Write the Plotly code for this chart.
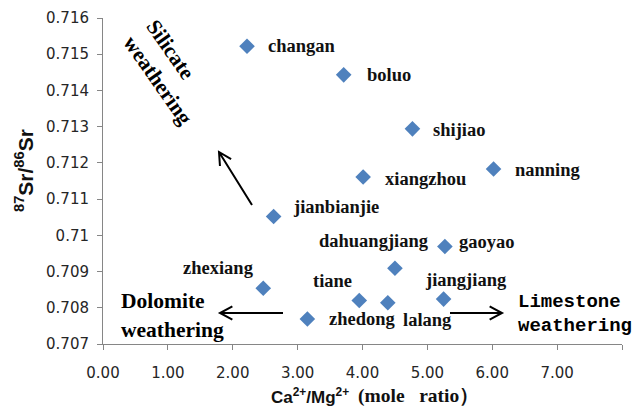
import plotly.graph_objects as go
import math

# ---- data ----
sites = ["changan", "boluo", "shijiao", "nanning", "xiangzhou", "jianbianjie",
         "dahuangjiang", "gaoyao", "zhexiang", "tiane", "jiangjiang", "zhedong", "lalang"]
ca_mg = [2.22, 3.71, 4.77, 6.02, 4.01, 2.63, 4.50, 5.27, 2.47, 3.95, 5.25, 3.15, 4.39]
sr_ratio = [0.71522, 0.71443, 0.71294, 0.71183, 0.71161, 0.71052, 0.70909,
            0.70969, 0.70854, 0.70820, 0.70824, 0.70769, 0.70814]

x_ticks = [0, 1, 2, 3, 4, 5, 6, 7, 8]
x_tick_text = ["0.00", "1.00", "2.00", "3.00", "4.00", "5.00", "6.00", "7.00", "8.00"]
y_ticks = [0.707, 0.708, 0.709, 0.710, 0.711, 0.712, 0.713, 0.714, 0.715, 0.716]
y_tick_text = ["0.707", "0.708", "0.709", "0.71", "0.711", "0.712", "0.713", "0.714", "0.715", "0.716"]

# ---- layout / style ----
W, H = 638, 409
L, R, T, B = 103, 16, 18, 65
PW, PH = W - L - R, H - T - B

def px(x, y):
    return (x - L) / PW, (H - B - y) / PH

label_place = {
    "changan": ("left", 19, 0),
    "boluo": ("left", 21, 0),
    "shijiao": ("left", 19, -1),
    "nanning": ("left", 19, -1),
    "xiangzhou": ("left", 20, -2),
    "jianbianjie": ("left", 17, 10),
    "dahuangjiang": ("center", -21, 27),
    "gaoyao": ("left", 12, 5),
    "zhexiang": ("right", -7, 20),
    "tiane": ("right", -5, 20),
    "jiangjiang": ("center", 22, 19),
    "zhedong": ("left", 20, 0),
    "lalang": ("center", 40, -17),
}

SERIF = "Liberation Serif, Times New Roman, serif"
SANS = "Liberation Sans, Arial, DejaVu Sans, sans-serif"
label_font = dict(family=SERIF, size=18.5, color="#111111")

fig = go.Figure(go.Scatter(
    x=ca_mg, y=sr_ratio, mode="markers",
    marker=dict(symbol="diamond", size=12, color="#4F81BD", line=dict(width=0)),
    hovertext=sites, showlegend=False,
))

annotations = []
for name, xv, yv in zip(sites, ca_mg, sr_ratio):
    anchor, dx, dy = label_place[name]
    annotations.append(dict(
        x=xv, y=yv, xref="x", yref="y", text=f"<b>{name}</b>", showarrow=False,
        xanchor=anchor, yanchor="middle", xshift=dx, yshift=dy, font=label_font,
    ))

def text_at(x, y, text, font, xanchor="left", angle=0, align="left"):
    xp, yp = px(x, y)
    annotations.append(dict(
        x=xp, y=yp, xref="paper", yref="paper", text=text, showarrow=False,
        xanchor=xanchor, yanchor="middle", textangle=angle, font=font, align=align,
    ))

big_serif = dict(family=SERIF, size=21.5, color="#000000")
mono = dict(family="Liberation Mono, DejaVu Sans Mono, monospace", size=19, color="#000000")

text_at(119, 301, "<b>Dolomite</b>", big_serif)
text_at(119, 330, "<b>weathering</b>", big_serif)
text_at(516, 302, "<b>Limestone</b>", mono)
text_at(516, 326, "<b>weathering</b>", mono)
text_at(169, 72, "<b>Silicate<br>weathering</b>", dict(family=SERIF, size=21.5, color="#000000"),
        xanchor="center", angle=55)

# axis titles
text_at(24, 171, "<b><sup>87</sup>Sr/<sup>86</sup>Sr</b>",
        dict(family=SANS, size=21, color="#111111"),
        xanchor="center", angle=-90)
text_at(269, 396, "<b>Ca<sup>2+</sup>/Mg<sup>2+</sup></b>", dict(family=SANS, size=17, color="#111111"))
text_at(356, 396, "<b>(mole&nbsp;&nbsp;&nbsp;ratio）</b>", dict(family=SERIF, size=19.5, color="#111111"))

# arrows drawn as shapes (pixel layout positions)
shapes = []
def arrow(tail, head, arm=14, half=28):
    tx, ty = tail
    hx, hy = head
    ang = math.atan2(ty - hy, tx - hx)
    pts = []
    for s in (-1, 1):
        a = ang + s * math.radians(half)
        pts.append((hx + arm * math.cos(a), hy + arm * math.sin(a)))
    def P(p):
        q = px(*p)
        return f"{q[0]:.5f},{q[1]:.5f}"
    path = f"M{P(tail)} L{P(head)} M{P(pts[0])} L{P(head)} L{P(pts[1])}"
    shapes.append(dict(type="path", xref="paper", yref="paper", path=path,
                       line=dict(color="#000000", width=2)))

arrow((252, 205), (219, 152))
arrow((283, 313), (220, 313))
arrow((450, 313), (502, 313))

axis_common = dict(
    showgrid=False, zeroline=False, showline=True, linecolor="#868686", linewidth=1,
    ticks="outside", ticklen=5, tickcolor="#868686", automargin=False,
    tickfont=dict(family="DejaVu Sans, sans-serif", size=15, color="#262626"),
)

fig.update_layout(
    width=W, height=H, margin=dict(l=L, r=R, t=T, b=B, autoexpand=False),
    paper_bgcolor="white", plot_bgcolor="white",
    xaxis=dict(range=[0, 8], tickvals=x_ticks, ticktext=x_tick_text,
               ticklabelstandoff=10, **axis_common),
    yaxis=dict(range=[0.707, 0.716], tickvals=y_ticks, ticktext=y_tick_text,
               ticklabelstandoff=5, **axis_common),
    annotations=annotations, shapes=shapes,
)

fig.write_html("out.html", config={"displayModeBar": False},
               post_script="document.body.style.margin='0';document.body.style.padding='0';")
